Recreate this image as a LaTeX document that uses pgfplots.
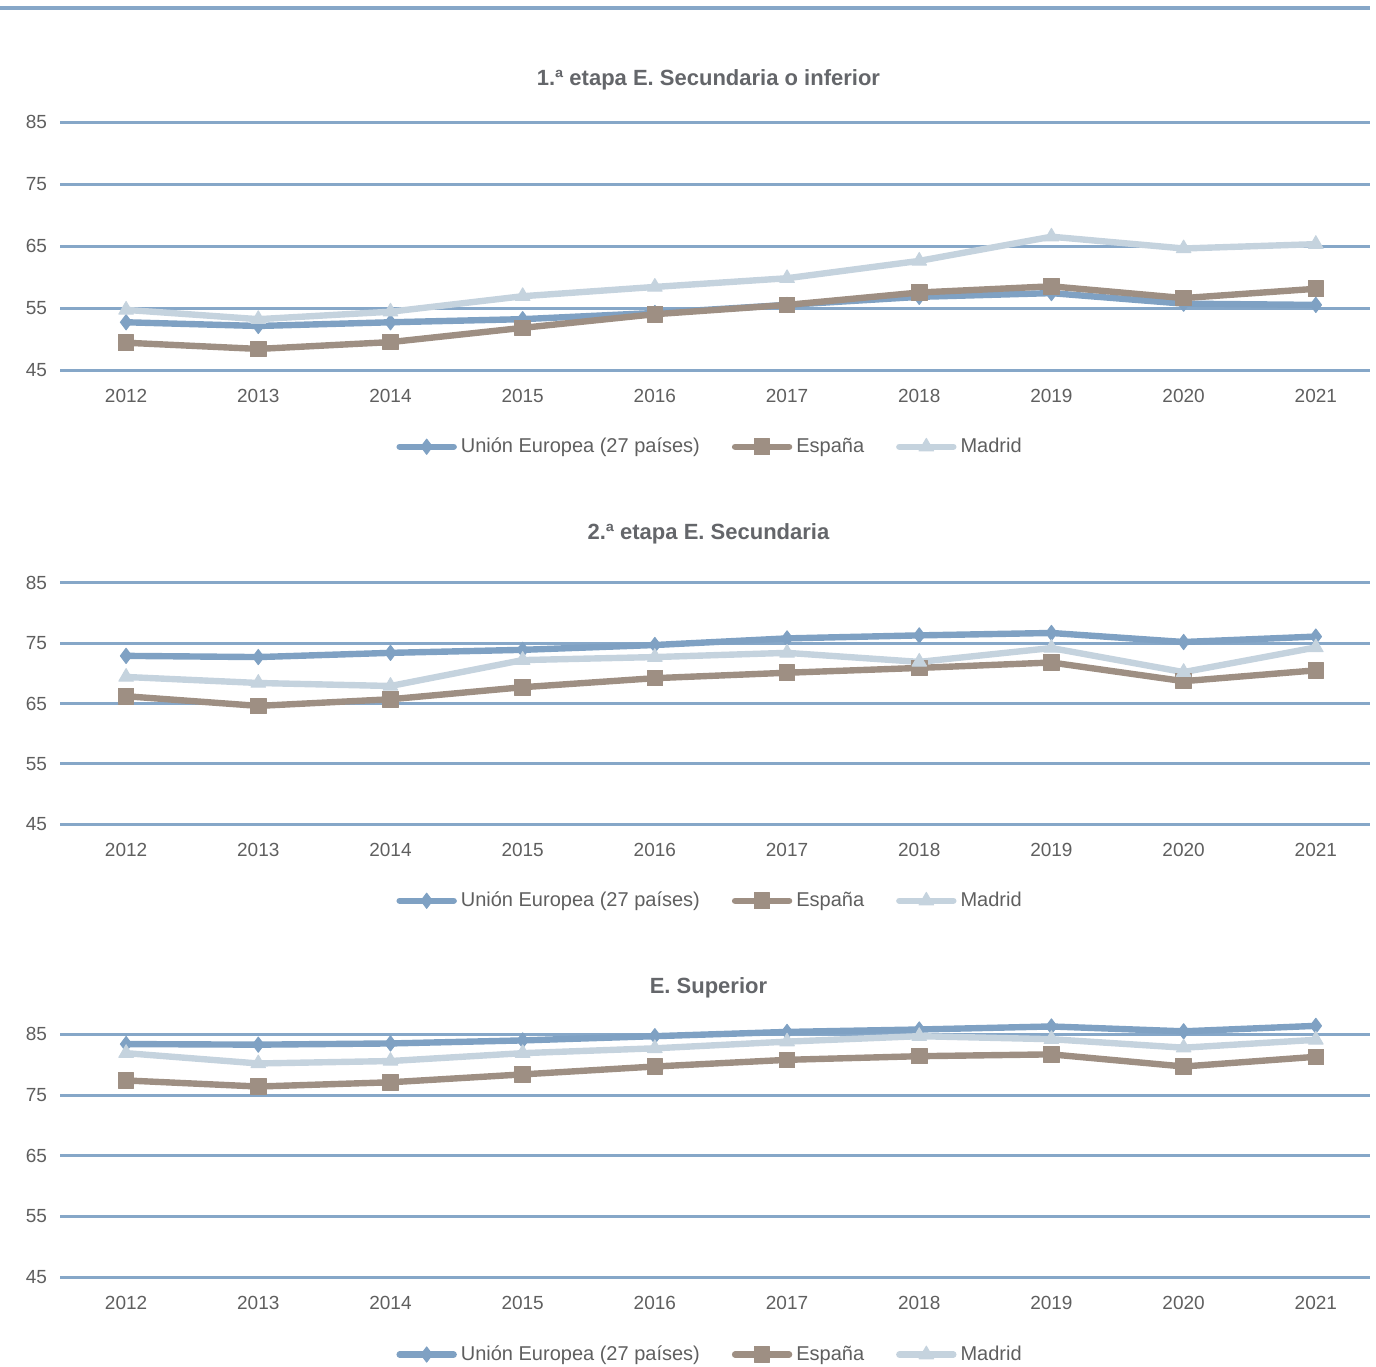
\documentclass[border=0pt]{standalone}
\usepackage{pgfplots}
\pgfplotsset{compat=1.18}
\usepackage{fontspec}
\setmainfont{Liberation Sans}
\definecolor{gridc}{RGB}{134,167,200}
\definecolor{euc}{RGB}{127,161,195}
\definecolor{esc}{RGB}{158,143,131}
\definecolor{mac}{RGB}{197,211,222}
\definecolor{txt}{RGB}{95,95,95}
\definecolor{ttl}{RGB}{100,102,106}
\tikzset{ttlnode/.style={font=\bfseries\fontsize{11}{13}\selectfont, text=ttl, yshift=-1.5pt}}
\pgfplotsset{
  panel/.style={
    scale only axis,
    width=655pt,
    xmin=-0.5, xmax=9.41,
    ymin=45, ymax=90,
    xtick={0,...,9},
    xticklabels={2012,2013,2014,2015,2016,2017,2018,2019,2020,2021},
    ytick={45,55,65,75,85},
    ymajorgrids,
    grid style={gridc, line width=1.5pt},
    axis line style={draw=none},
    major tick length=0pt,
    tick label style={font=\fontsize{9.5}{11}\selectfont, text=txt},
    /pgf/number format/assume math mode=true,
    xticklabel style={yshift=-6pt},
    yticklabel style={xshift=-3pt},
    clip=false,
    legend columns=3,
    legend style={draw=none, fill=none, font=\fontsize{10}{12}\selectfont, text=txt, inner sep=0pt,
      /tikz/every even column/.append style={column sep=14pt}},
    legend image code/.code={\draw[mark repeat=2, mark phase=2, line cap=round, #1] plot coordinates {(0pt,0pt) (13.5pt,0pt) (27pt,0pt)};},
  },
  eu/.style={color=euc, line width=3.2pt, line join=round, mark=diamond*, mark size=3.8pt, mark options={fill=euc, draw=euc, line width=0.5pt}},
  es/.style={color=esc, line width=3.2pt, line join=round, mark=square*, mark size=3.9pt, mark options={fill=esc, draw=esc, line width=0.5pt}},
  ma/.style={color=mac, line width=3.2pt, line join=round, mark=triangle*, mark size=4.2pt, mark options={fill=mac, draw=mac, line width=0.5pt}},
}
\begin{document}
\begin{tikzpicture}
\path[use as bounding box] (0,0) rectangle (688pt,-683pt);
\draw[gridc, line width=2.3pt] (0pt,-4pt) -- (685pt,-4pt);

% Panel 1
\begin{axis}[panel, height=139.5pt, at={(30pt,-185pt)}, anchor=south west,
  legend style={at={(0.497,-0.275)}, anchor=center}]
\addplot[eu] coordinates {(0,52.7) (1,52.1) (2,52.7) (3,53.2) (4,54.2) (5,55.5) (6,56.8) (7,57.4) (8,55.7) (9,55.5)};
\addplot[es] coordinates {(0,49.4) (1,48.4) (2,49.5) (3,51.8) (4,54.0) (5,55.5) (6,57.5) (7,58.5) (8,56.6) (9,58.1)};
\addplot[ma] coordinates {(0,54.7) (1,53.2) (2,54.4) (3,56.9) (4,58.4) (5,59.8) (6,62.6) (7,66.5) (8,64.6) (9,65.3)};
\legend{Unión Europea (27 países), España, Madrid}
\node[ttlnode] at (axis description cs:0.495,1.05) {1.ª etapa E. Secundaria o inferior};
\end{axis}

% Panel 2
\begin{axis}[panel, height=135.6pt, at={(30pt,-412pt)}, anchor=south west,
  legend style={at={(0.497,-0.283)}, anchor=center}]
\addplot[eu] coordinates {(0,72.9) (1,72.7) (2,73.4) (3,73.9) (4,74.7) (5,75.8) (6,76.3) (7,76.7) (8,75.2) (9,76.1)};
\addplot[es] coordinates {(0,66.2) (1,64.6) (2,65.7) (3,67.7) (4,69.2) (5,70.1) (6,70.9) (7,71.8) (8,68.7) (9,70.5)};
\addplot[ma] coordinates {(0,69.4) (1,68.4) (2,67.9) (3,72.2) (4,72.7) (5,73.4) (6,71.9) (7,74.2) (8,70.2) (9,74.3)};
\legend{Unión Europea (27 países), España, Madrid}
\node[ttlnode] at (axis description cs:0.495,1.081) {2.ª etapa E. Secundaria};
\end{axis}

% Panel 3
\begin{axis}[panel, height=136.5pt, at={(30pt,-638.5pt)}, anchor=south west,
  legend style={at={(0.497,-0.284)}, anchor=center}]
\addplot[eu] coordinates {(0,83.4) (1,83.3) (2,83.5) (3,84.0) (4,84.7) (5,85.4) (6,85.8) (7,86.3) (8,85.5) (9,86.4)};
\addplot[es] coordinates {(0,77.4) (1,76.4) (2,77.1) (3,78.4) (4,79.7) (5,80.8) (6,81.4) (7,81.7) (8,79.7) (9,81.3)};
\addplot[ma] coordinates {(0,81.9) (1,80.2) (2,80.6) (3,81.9) (4,82.7) (5,83.8) (6,84.7) (7,84.2) (8,82.8) (9,84.1)};
\legend{Unión Europea (27 países), España, Madrid}
\node[ttlnode] at (axis description cs:0.495,1.07) {E. Superior};
\end{axis}
\end{tikzpicture}
\end{document}
